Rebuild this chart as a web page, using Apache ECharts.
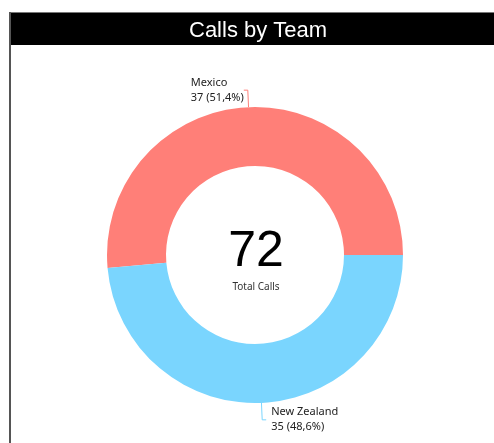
<!DOCTYPE html>
<html>
<head>
<meta charset="utf-8">
<script src="https://cdn.jsdelivr.net/npm/echarts@6/dist/echarts.min.js"></script>
<style>
  html, body { margin: 0; padding: 0; background: #fff; }
  #chart { width: 494px; height: 443px; }
</style>
</head>
<body>
<div id="chart"></div>
<script>
// Data
const teams = ['Mexico', 'New Zealand'];
const calls = [37, 35];
const teamColors = ['#FF7F78', '#7AD5FE'];
const totalLabel = 'Total Calls';

const total = calls.reduce((sum, v) => sum + v, 0);

const chart = echarts.init(document.getElementById('chart'));

// Configure chart options
const option = {
  animation: false,
  title: {
    text: 'Calls by Team',
    left: 184,
    top: 15,
    textStyle: {
      color: '#ffffff',
      fontFamily: 'Liberation Sans',
      fontSize: 22,
      fontWeight: 'normal'
    }
  },
  graphic: [
    // frame + title bar
    { type: 'rect', z: -1, shape: { x: 9, y: 12, width: 490, height: 1 }, style: { fill: '#777' } },
    { type: 'rect', z: -1, shape: { x: 9, y: 13, width: 490, height: 32 }, style: { fill: '#000' } },
    { type: 'rect', z: -1, shape: { x: 9, y: 12, width: 2, height: 440 }, style: { fill: '#555' } },
    // centre total
    {
      type: 'text',
      style: {
        x: 256, y: 252,
        text: String(total),
        fontFamily: 'Liberation Sans Narrow, Liberation Sans',
        fontSize: 50,
        fill: '#000',
        align: 'center',
        verticalAlign: 'middle'
      }
    },
    {
      type: 'text',
      style: {
        x: 256, y: 287,
        text: totalLabel,
        fontFamily: 'Noto Sans',
        fontSize: 10,
        fill: '#333',
        align: 'center',
        verticalAlign: 'middle'
      }
    }
  ],
  series: [
    {
      name: 'Calls',
      type: 'pie',
      center: [255, 255],
      radius: [89, 148],
      startAngle: 0,
      clockwise: false,
      avoidLabelOverlap: false,
      emphasis: { disabled: true },
      data: teams.map((name, i) => ({
        name: name,
        value: calls[i],
        itemStyle: { color: teamColors[i] }
      })),
      label: {
        show: true,
        position: 'outside',
        formatter: p => '{t|' + p.name + '}\n{t|' + p.value + ' (' + p.percent.toFixed(1).replace('.', ',') + '%)}',
        rich: {
          t: {
            width: 48,
            align: 'left',
            color: '#222',
            fontFamily: 'Noto Sans',
            fontSize: 11,
            lineHeight: 15
          }
        }
      },
      labelLine: {
        show: true,
        length: 17,
        length2: 4,
        lineStyle: { width: 1 }
      }
    }
  ]
};

chart.setOption(option);
</script>
</body>
</html>
